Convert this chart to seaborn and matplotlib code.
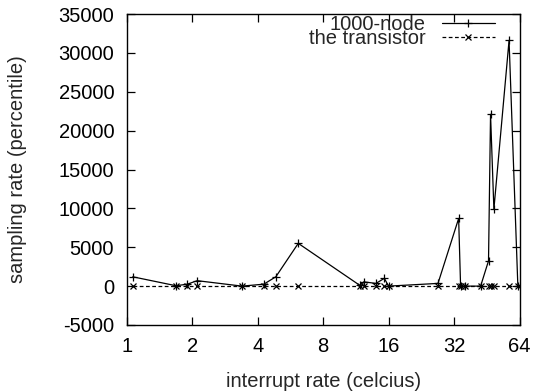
import matplotlib
matplotlib.use("Agg")
import matplotlib.pyplot as plt
import seaborn as sns
import numpy as np
import pandas as pd

# ---- data ----
x_vals = [1.066, 1.685, 1.90, 2.11, 3.39, 4.27, 4.85, 6.15, 11.8, 12.3, 14.0,
          15.3, 16.0, 27.0, 33.6, 34.3, 36.0, 42.4, 46.1, 47.1, 48.8, 57.3, 62.9]
node_vals = [1200, 50, 250, 700, 0, 250, 1200, 5500, 100, 550, 350,
             1000, 0, 350, 8700, 0, 0, 0, 3250, 22100, 9900, 31600, 0]
trans_vals = [0, 0, 0, 0, 0, 0, 0, 0, 0, 0, 0,
              0, 0, 0, 0, 0, 0, 0, 0, 0, 0, 0, 0]
series_names = ["1000-node", "the transistor"]
x_ticks = [1, 2, 4, 8, 16, 32, 64]
x_tick_labels = ["1", "2", "4", "8", "16", "32", "64"]
y_ticks = [-5000, 0, 5000, 10000, 15000, 20000, 25000, 30000, 35000]
x_label = "interrupt rate (celcius)"
y_label = "sampling rate (percentile)"

sns.set_style("ticks")
plt.rcParams["font.family"] = ["Liberation Sans", "DejaVu Sans"]
FS = 14.5

fig = plt.figure(figsize=(5.34, 3.91), dpi=100)
W, H = 534, 391
left, right, top, bottom = 126.7, 519.5, 14, 325
ax = fig.add_axes([left / W, 1 - bottom / H, (right - left) / W, (bottom - top) / H])

sns.lineplot(x=x_vals, y=node_vals, ax=ax, color="black", marker="+",
             markersize=5.5, markeredgewidth=0.9, markeredgecolor="black",
             linewidth=0.9, label=series_names[0], sort=False, estimator=None)
sns.lineplot(x=x_vals, y=trans_vals, ax=ax, color="black", marker="x",
             markersize=4, markeredgewidth=0.9, markeredgecolor="black",
             linewidth=0.9, label=series_names[1], sort=False, estimator=None)
ax.lines[1].set_dashes([3, 2])

ax.set_xscale("log", base=2)
ax.set_xlim(1, 64)
ax.set_ylim(-5000, 35000)
ax.set_xticks(x_ticks)
ax.set_xticklabels(x_tick_labels)
ax.xaxis.set_minor_locator(matplotlib.ticker.NullLocator())
ax.set_yticks(y_ticks)
ax.set_yticklabels([str(v) for v in y_ticks])

ax.tick_params(axis="both", which="both", direction="in", length=6, width=0.9,
               top=True, right=True, labelsize=FS, colors="black")
ax.tick_params(axis="x", pad=9)
ax.tick_params(axis="y", pad=9)
for s in ax.spines.values():
    s.set_visible(True)
    s.set_linewidth(1.0)
    s.set_color("black")

ax.set_xlabel(x_label, fontsize=FS)
ax.set_ylabel(y_label, fontsize=FS)
ax.xaxis.set_label_coords(0.5, -(382 + 9 - bottom) / (bottom - top))
ax.xaxis.label.set_va("bottom")
ax.yaxis.set_label_coords((27 - left) / (right - left), 0.5)

leg = ax.legend(loc="upper right", frameon=False, markerfirst=False,
                fontsize=FS, handlelength=2.65, labelspacing=-0.27,
                borderaxespad=0.0, handletextpad=0.78, borderpad=0.0,
                numpoints=1,
                bbox_to_anchor=((495 - left) / (right - left), (bottom - 15) / (bottom - top)))

fig.savefig("out.png", dpi=100)
